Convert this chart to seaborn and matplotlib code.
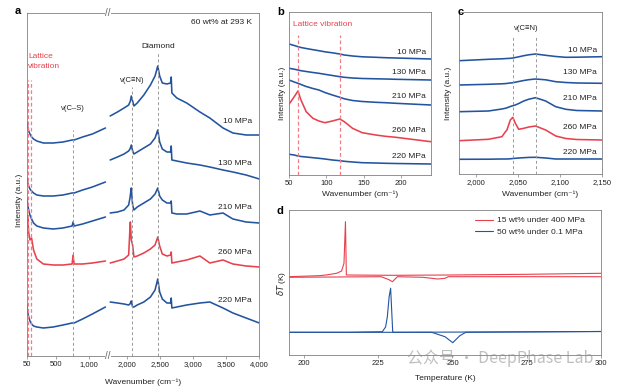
import matplotlib
matplotlib.use("Agg")
import matplotlib.pyplot as plt
import seaborn as sns

# ---- data (intensity in arbitrary units) ----
PRESSURES = ["10 MPa", "130 MPa", "210 MPa", "260 MPa", "220 MPa"]

# panel a, low-wavenumber part of the broken axis
A_LEFT_WN = [50, 60, 75, 95, 120, 150, 200, 300, 450, 600, 740, 755, 770, 900, 1050, 1250]
A_LEFT_10 = [234, 229, 225, 222, 219, 217, 215, 213, 213, 214, 216, 216, 216, 219, 222, 228]
A_LEFT_130 = [178, 173, 170, 167, 165, 163, 161, 160, 160, 161, 163, 163, 163, 166, 169, 174]
A_LEFT_210 = [158, 152, 146, 141, 137, 133, 130, 128, 127, 128, 130, 134, 130, 132, 135, 139]
A_LEFT_260 = [121, 141, 124, 116, 118, 106, 97, 92, 91, 91, 92, 101, 92, 92, 93, 95]
A_LEFT_220 = [51, 44, 39, 35, 32, 30, 29, 28, 29, 31, 33, 33, 33, 37, 42, 49]

# panel a, high-wavenumber part
A_RIGHT_WN = [1740, 1850, 1950, 2020, 2040, 2046, 2060, 2080, 2100, 2150, 2250, 2350, 2420, 2461,
              2490, 2530, 2600, 2655, 2665, 2675, 2750, 2900, 3100, 3250, 3450, 3600, 3800, 4000]
A_RIGHT_10 = [240, 244, 248, 251, 254, 255, 260, 255, 250, 253, 261, 271, 280, 290,
              280, 273, 272, 273, 279, 263, 258, 253, 244, 238, 228, 223, 221, 221]
A_RIGHT_130 = [196, 199, 202, 205, 207, 208, 211, 205, 202, 204, 208, 212, 218, 226,
               214, 207, 204, 204, 210, 196, 195, 193, 191, 189, 186, 184, 181, 177]
A_RIGHT_210 = [143, 144, 146, 151, 158, 161, 168, 151, 146, 149, 153, 157, 162, 168,
               160, 156, 153, 153, 155, 143, 142, 142, 145, 141, 143, 137, 134, 133]
A_RIGHT_260 = [93, 95, 97, 101, 128, 134, 116, 111, 99, 100, 103, 107, 111, 119,
               110, 102, 100, 101, 104, 93, 94, 96, 100, 93, 96, 92, 90, 89]
A_RIGHT_220 = [54, 53, 52, 51, 52, 53, 55, 49, 49, 51, 54, 59, 66, 77,
               64, 57, 53, 53, 58, 48, 49, 51, 53, 54, 48, 43, 38, 33]

# panel b, lattice vibration region
B_WN = [50, 57, 62, 66, 73, 82, 90, 98, 108, 118, 124, 135, 148, 166, 179, 193, 240]
B_10 = [131, 129.5, 128.3, 127.5, 126.5, 125.3, 124.3, 123.2, 122.2, 121, 120, 119, 118.2, 117.7, 117.3, 117, 116]
B_130 = [106.7, 105.8, 105, 104.3, 103.5, 102.5, 101.7, 100.7, 99.5, 98.3, 97.7, 97, 96.5, 96.2, 96, 95.7, 95]
B_210 = [95, 93, 91.7, 90.5, 88.5, 86.5, 85, 82.5, 80, 77.7, 76.2, 74.5, 73.5, 72.7, 72.3, 71.7, 70]
B_260 = [70.7, 78.3, 84, 75, 63.3, 56.7, 54, 52.3, 54, 56, 53.3, 46.7, 42.3, 40, 38.7, 37.7, 33.3]
B_220 = [20.7, 20, 19, 18.5, 18, 17.3, 16.7, 16, 15, 14.3, 13.7, 13, 12.3, 12, 11.7, 11.5, 11]

# panel c, C≡N stretch region
C_WN = [1980, 2015, 2031, 2035, 2037, 2041, 2044, 2047, 2051, 2057, 2063, 2071, 2083, 2095, 2107, 2120, 2150]
C_10 = [113.3, 114.7, 115.2, 115.4, 115.5, 115.7, 116, 116.5, 117.2, 118.3, 119.2, 120, 118.7, 117.5, 116.7, 116.8, 117.3]
C_130 = [89, 89.7, 90.2, 90.4, 90.6, 91, 91.3, 91.8, 92.5, 93.5, 94.3, 95, 94.2, 92.3, 91.5, 91, 90.7]
C_210 = [62.3, 63, 65, 65.7, 66.2, 67.5, 68.3, 69, 70.5, 73, 74.8, 76.3, 73, 67.3, 64.7, 63.5, 63]
C_260 = [33.3, 34.7, 37.3, 42, 44, 54, 56.7, 50.7, 44.7, 45.7, 47, 48, 44, 38, 35.5, 34.5, 34]
C_220 = [14.7, 14.8, 15, 15, 15, 15.2, 15.5, 15.7, 16, 16.3, 16.6, 16.7, 16, 15, 15, 15, 15]

# panel d, DSC traces (cooling and heating branches)
D_RED_COOL_T = [195, 205, 207.5, 211, 212.7, 213.5, 214.0, 214.3, 230, 249, 275, 300]
D_RED_COOL = [78.3, 79.3, 80, 81.7, 84, 91.7, 133.3, 80, 79.7, 80, 80.7, 81.7]
D_RED_HEAT_T = [195, 210, 226, 228.5, 229.8, 231.5, 240, 243, 245, 247.5, 248.6, 270, 300]
D_RED_HEAT = [77.7, 78, 78.3, 75.5, 73.3, 78.3, 77.7, 76.7, 76, 76.7, 78.3, 78.3, 78.3]
D_BLUE_COOL_T = [195, 215, 226.4, 227.5, 228.1, 228.7, 229.2, 229.9, 230.2, 260, 300]
D_BLUE_COOL = [22.7, 22.7, 23.3, 28, 38.3, 58.3, 66.7, 23.3, 22.7, 23, 23.5]
D_BLUE_HEAT_T = [195, 240, 243, 247.5, 250.1, 252.5, 254.5, 270, 300]
D_BLUE_HEAT = [22.7, 22.7, 22.7, 18.3, 12.3, 19.3, 22.7, 23, 23.5]

BLUE = "#2254a0"
RED = "#e8414e"
PINK = "#f27d88"
GREY = "#9a9a9a"
TXT = "#222222"

sns.set_theme(style="ticks")
plt.rcParams["font.family"] = ["Liberation Sans", "DejaVu Sans"]
plt.rcParams["axes.edgecolor"] = "#808080"
plt.rcParams["axes.linewidth"] = 0.6

W, H = 623, 389
fig = plt.figure(figsize=(W / 100, H / 100), dpi=100)


def add_ax(x0, y0, x1, y1):
    return fig.add_axes([x0 / W, 1 - y1 / H, (x1 - x0) / W, (y1 - y0) / H])


def ftext(px, py, s, **kw):
    kw.setdefault("fontsize", 6)
    kw.setdefault("color", TXT)
    kw.setdefault("va", "center")
    return fig.text(px / W, 1 - py / H, s, **kw)


def style(ax):
    ax.set_yticks([])
    ax.tick_params(axis="x", labelsize=5.5, length=2.2, width=0.5, pad=1.5,
                   colors="#808080", labelcolor=TXT, direction="out")
    ax.set_xlabel("")
    ax.set_ylabel("")


def draw(ax, x, ys):
    colors = [BLUE, BLUE, BLUE, RED, BLUE]
    for y, c in zip(ys, colors):
        sns.lineplot(x=x, y=y, ax=ax, color=c, lw=1.15, estimator=None, legend=False)


# ---------------- panel a ----------------
axl = add_ax(27, 13, 108, 356)
axr = add_ax(108, 13, 259.3, 356)
draw(axl, A_LEFT_WN, [A_LEFT_10, A_LEFT_130, A_LEFT_210, A_LEFT_260, A_LEFT_220])
draw(axr, A_RIGHT_WN, [A_RIGHT_10, A_RIGHT_130, A_RIGHT_210, A_RIGHT_260, A_RIGHT_220])
for ax in (axl, axr):
    ax.set_ylim(0, 343)
    style(ax)
axl.set_xlim(50, 1289)
axr.set_xlim(1707, 4000)
axl.spines["right"].set_visible(False)
axr.spines["left"].set_visible(False)
axl.set_xticks([50, 500, 1000], ["50", "500", "1,000"])
axr.set_xticks([2000, 2500, 3000, 3500, 4000], ["2,000", "2,500", "3,000", "3,500", "4,000"])

for wn in (62, 118):
    axl.axvline(wn, ymax=0.805, color=PINK, lw=0.9, ls=(0, (3, 2)))
axl.axvline(754, ymax=0.659, color=GREY, lw=0.7, ls=(0, (3, 2.5)))
axr.axvline(2067, ymax=0.784, color=GREY, lw=0.7, ls=(0, (3, 2.5)))
axr.axvline(2461, ymax=0.886, color=GREY, lw=0.7, ls=(0, (3, 2.5)))

for py in (13, 356):
    ftext(108, py, "//", ha="center", fontsize=7, color="#606060",
          bbox=dict(fc="white", ec="none", pad=0.2))

ftext(252, 22, "60 wt% at 293 K", ha="right")
ftext(158, 46, "Diamond", ha="center")
ftext(132, 81, "ν(C≡N)", ha="center", fontsize=5.5)
ftext(73, 108, "ν(C–S)", ha="center", fontsize=5.5)
ftext(28, 57, "Lattice", color=RED, ha="left")
ftext(28, 67, "vibration", color=RED, ha="left")
for label, py in zip(PRESSURES, [121, 164, 207, 253, 300]):
    ftext(252, py, label, ha="right")
ftext(20, 200, "Intensity (a.u.)", rotation=90, ha="center")
ftext(143, 382, "Wavenumber (cm⁻¹)", ha="center")
ftext(18, 11, "a", fontsize=8, fontweight="bold", color="black", ha="center")

# ---------------- panel b ----------------
axb = add_ax(289, 12, 431, 175)
draw(axb, B_WN, [B_10, B_130, B_210, B_260, B_220])
axb.set_xlim(50, 240)
axb.set_ylim(0, 163)
style(axb)
axb.set_xticks([50, 100, 150, 200])
for wn in (62, 118):
    axb.axvline(wn, ymax=0.859, color=PINK, lw=0.9, ls=(0, (3, 2)))
ftext(293, 25, "Lattice vibration", color=RED, ha="left")
for label, py in zip(PRESSURES, [52, 72, 97, 130, 156]):
    ftext(426, py, label, ha="right")
ftext(282, 93, "Intensity (a.u.)", rotation=90, ha="center")
ftext(360, 194, "Wavenumber (cm⁻¹)", ha="center")
ftext(281, 12, "b", fontsize=8, fontweight="bold", color="black", ha="center")

# ---------------- panel c ----------------
axc = add_ax(459, 12, 602, 174)
draw(axc, C_WN, [C_10, C_130, C_210, C_260, C_220])
axc.set_xlim(1980, 2150)
axc.set_ylim(0, 162)
style(axc)
axc.set_xticks([2000, 2050, 2100, 2150], ["2,000", "2,050", "2,100", "2,150"])
for wn in (2044, 2071):
    axc.axvline(wn, ymax=0.858, color=GREY, lw=0.7, ls=(0, (3, 2.5)))
ftext(526, 28, "ν(C≡N)", ha="center", fontsize=5.5)
for label, py in zip(PRESSURES, [50, 73, 99, 128, 153]):
    ftext(597, py, label, ha="right")
ftext(449, 93, "Intensity (a.u.)", rotation=90, ha="center")
ftext(540, 194, "Wavenumber (cm⁻¹)", ha="center")
ftext(461, 12, "c", fontsize=8, fontweight="bold", color="black", ha="center")

# ---------------- panel d ----------------
axd = add_ax(289, 210, 601, 355)
sns.lineplot(x=D_RED_COOL_T, y=D_RED_COOL, ax=axd, color=RED, lw=0.8,
             estimator=None, label="15 wt% under 400 MPa")
sns.lineplot(x=D_RED_HEAT_T, y=D_RED_HEAT, ax=axd, color=RED, lw=0.8,
             estimator=None, legend=False)
sns.lineplot(x=D_BLUE_COOL_T, y=D_BLUE_COOL, ax=axd, color=BLUE, lw=0.8,
             estimator=None, label="50 wt% under 0.1 MPa")
sns.lineplot(x=D_BLUE_HEAT_T, y=D_BLUE_HEAT, ax=axd, color=BLUE, lw=0.8,
             estimator=None, legend=False)
axd.set_xlim(195, 300)
axd.set_ylim(0, 145)
style(axd)
axd.set_xticks([200, 225, 250, 275, 300])
axd.legend(loc="upper right", frameon=False, fontsize=6, handlelength=2.2,
           handletextpad=0.5, labelspacing=0.4, borderaxespad=0.4,
           bbox_to_anchor=(0.97, 1.0))
ftext(282, 283, "$\\delta T$ (K)", rotation=90, ha="center")
ftext(445, 378, "Temperature (K)", ha="center")
ftext(280, 211, "d", fontsize=8, fontweight="bold", color="black", ha="center")

# watermark from the source image
ftext(407, 358, "公众号 · DeepPhase Lab", ha="left", fontsize=11.5, color="#8c8c8c",
      alpha=0.55, family=["Noto Sans CJK SC", "DejaVu Sans"])

fig.savefig("out.png", dpi=100)
